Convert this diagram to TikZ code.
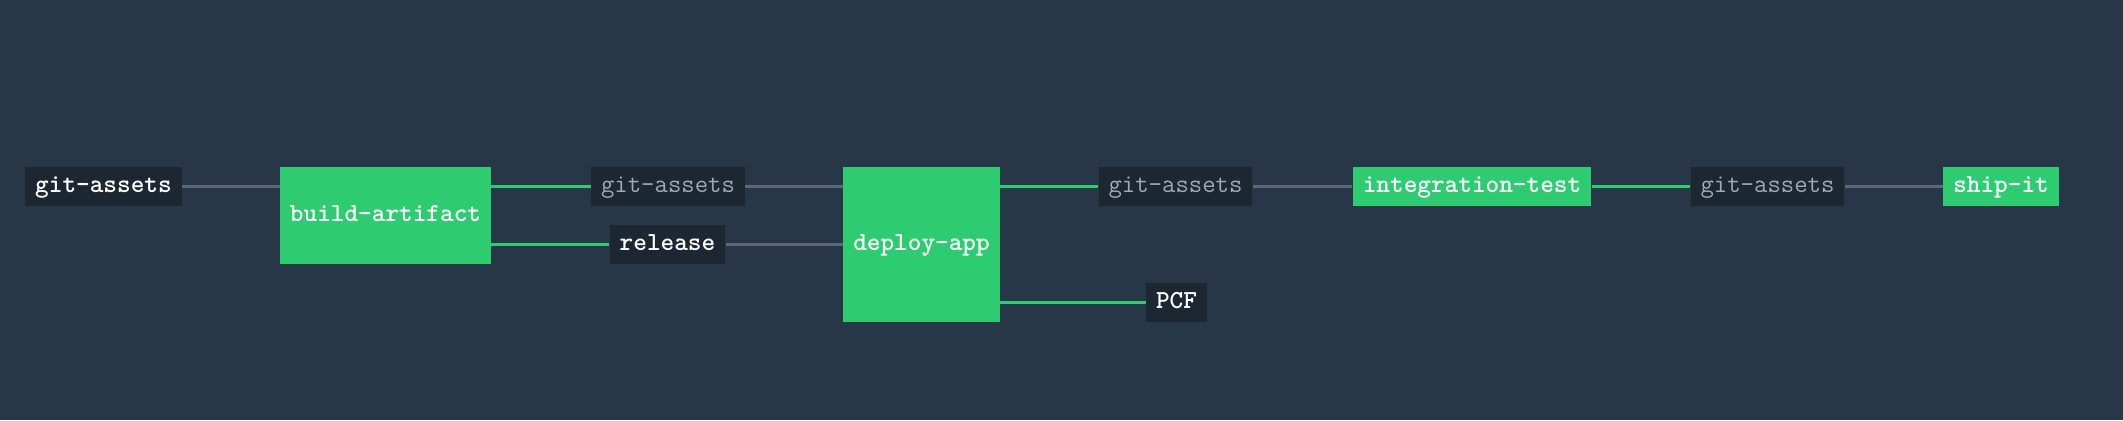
\documentclass[tikz,border=0pt]{standalone}
\usepackage{xcolor}
\usepackage{tikz}
\definecolor{bgslate}{HTML}{273747}
\definecolor{boxdark}{HTML}{1D2731}
\definecolor{okgreen}{HTML}{2ECC71}
\definecolor{linegray}{HTML}{5C6674}
\definecolor{textgray}{HTML}{A1A9B2}

\begin{document}
\begin{tikzpicture}[x=0.5pt,y=-0.5pt]
	\tikzstyle{res}=[fill=boxdark,text=white,font=\fontsize{13}{14}\selectfont\ttfamily\bfseries,inner xsep=5pt,inner ysep=0pt,minimum height=19.5pt,text height=8.5pt,text depth=2.5pt]
	\tikzstyle{resgray}=[res,text=textgray,font=\fontsize{13}{14}\selectfont\ttfamily]
	\tikzstyle{job}=[res,fill=okgreen]
	\tikzstyle{link}=[draw=linegray,line width=1.5pt]
	\tikzstyle{ok}=[draw=okgreen,line width=1.5pt]
	\fill[bgslate] (0,0) rectangle (2123,420);
	\node[res](r1) at (103.5,186.5) {git-assets};
	\node[job,minimum height=48.5pt](b) at (385.5,215.5) {build-artifact};
	\node[resgray](r2) at (668,186.5) {git-assets};
	\node[res](rel) at (667.5,244.5) {release};
	\node[job,minimum height=77.5pt](d) at (921.5,244.5) {deploy-app};
	\node[resgray](r3) at (1175.5,186.5) {git-assets};
	\node[res](pcf) at (1176.5,302.5) {PCF};
	\node[job](it) at (1472,186.5) {integration-test};
	\node[resgray](r4) at (1767.5,186.5) {git-assets};
	\node[job](s) at (2001,186.5) {ship-it};
	\path[link]
		(r1) edge (b.west |- r1)
		(r2) edge (d.west |- r2)
		(rel) edge (d.west |- rel)
		(r3) edge (it)
		(r4) edge (s);
	\path[ok]
		(b.east |- r2) edge (r2)
		(b.east |- rel) edge (rel)

		(d.east |- r3) edge (r3)
		(d.east |- pcf) edge (pcf)

		(it) edge (r4);
\end{tikzpicture}
\end{document}
